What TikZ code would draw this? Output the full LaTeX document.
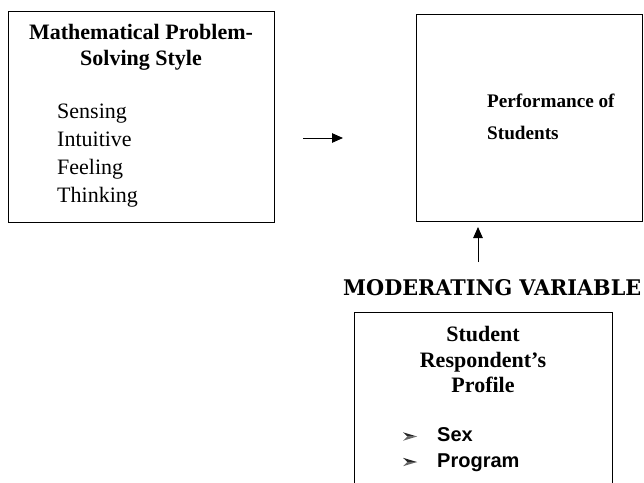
\documentclass[tikz,border=0pt]{standalone}
\usepackage{fontspec}
\usepackage{graphicx}
\newfontfamily\tnr{Liberation Serif}
\newfontfamily\arl{Liberation Sans}
\newfontfamily\djvs{DejaVu Serif}
\usetikzlibrary{arrows.meta}
\tikzset{
  box/.style={draw=black, line width=1pt, rectangle, inner sep=0pt},
  ttl/.style={inner sep=0pt, anchor=base, font=\tnr\bfseries\fontsize{22}{26}\selectfont},
  ttlr/.style={inner sep=0pt, anchor=base west, font=\tnr\bfseries\fontsize{19.2}{24}\selectfont},
  item/.style={inner sep=0pt, anchor=base west, font=\tnr\fontsize{22}{28}\selectfont},
  bitem/.style={inner sep=0pt, anchor=base west, font=\arl\bfseries\fontsize{20}{25}\selectfont},
  arr/.style={line width=1pt, -{Triangle[length=11pt,width=9.5pt]}},
  % list marker: an arrowhead pointing right, origin at its tip
  listmark/.pic={
    \fill[black!85] (0,0) -- (-14,-4.2) -- (-9.5,0) -- cycle;
    \fill[black!60] (0,0) -- (-9.5,0) -- (-14,4.2) -- cycle;
  },
}
\begin{document}
\begin{tikzpicture}[x=1pt,y=-1pt]
\useasboundingbox (0,0) rectangle (644,482);
\clip (0,0) rectangle (644,482);

% independent variable box
\node[box, minimum width=266pt, minimum height=211pt] (indep) at (141,116.5) {};
\node[ttl] (t1) at (141,39) {Mathematical Problem-};
\node[ttl] (t2) at (141,65) {Solving Style};
\node[item] (s1) at (57,118) {Sensing};
\node[item] (s2) at (57,146.5) {Intuitive};
\node[item] (s3) at (57,174) {Feeling};
\node[item] (s4) at (57,202) {Thinking};

% dependent variable box
\node[box, minimum width=226pt, minimum height=207pt] (dep) at (529,117.5) {};
\node[ttlr] (p1) at (487,107) {Performance of};
\node[ttlr] (p2) at (487,139) {Students};

% arrow from independent to dependent variable
\coordinate (ra) at (303,138);
\coordinate (rb) at (343,138);
\draw[arr] (ra) -- (rb);

% arrow from moderating variable up to performance
\coordinate (ua) at (478,262);
\coordinate (ub) at (478,227);
\draw[arr] (ua) -- (ub);

% moderating variable heading
\node[inner sep=0pt, anchor=base west] (mv) at (343,295)
  {\resizebox{298pt}{16pt}{\djvs\bfseries MODERATING VARIABLE}};

% moderating variable box (runs past the lower edge)
\node[box, minimum width=258pt, minimum height=200pt, anchor=north west] (mod) at (354,312) {};
\node[ttl] (m1) at (483,341) {Student};
\node[ttl] (m2) at (483,367) {Respondent’s};
\node[ttl] (m3) at (483,392) {Profile};
\coordinate (k1) at (417,436.5);
\coordinate (k2) at (417,462);
\pic at (k1) {listmark};
\pic at (k2) {listmark};
\node[bitem] (c1) at (437,441.5) {Sex};
\node[bitem] (c2) at (437,467.5) {Program};
\end{tikzpicture}
\end{document}
